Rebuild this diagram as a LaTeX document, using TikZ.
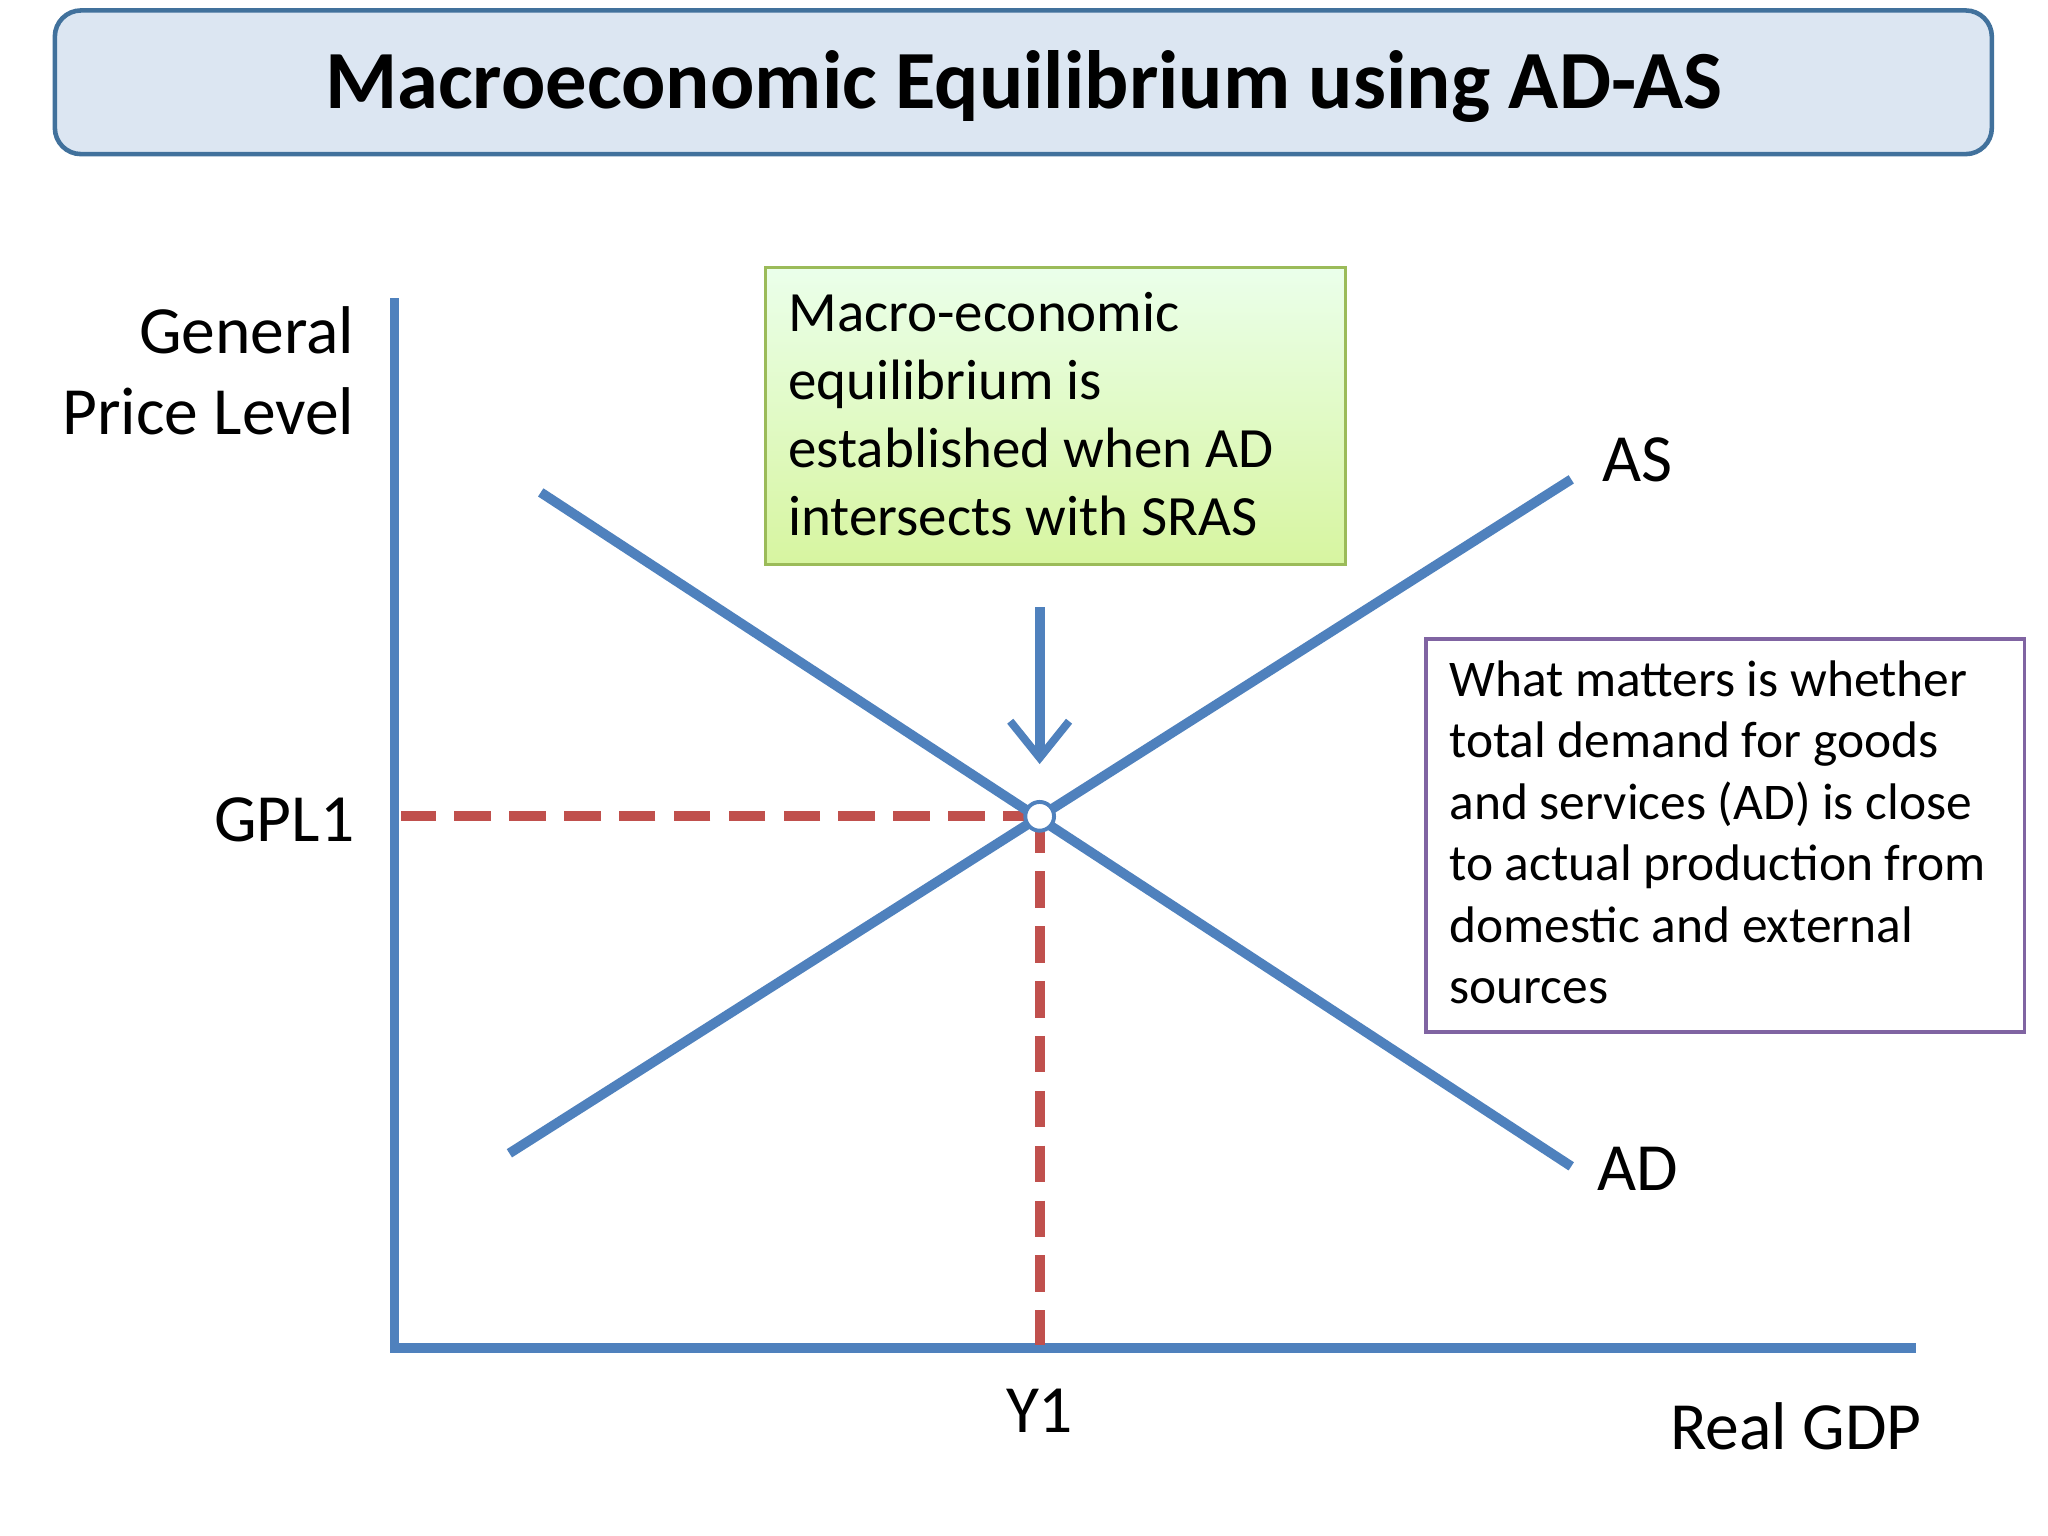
\documentclass[tikz,border=0pt]{standalone}
\usepackage{fontspec}
\setmainfont{Carlito}
\usetikzlibrary{arrows.meta}
\definecolor{axb}{HTML}{4F81BD}
\definecolor{dred}{HTML}{C0504D}
\definecolor{tfill}{HTML}{DCE6F2}
\definecolor{tbord}{HTML}{41719C}
\definecolor{gbord}{HTML}{9BBB59}
\definecolor{pbord}{HTML}{8064A2}
\tikzset{
  curve/.style={axb, line width=0.075cm},
  guide/.style={dred, line width=0.075cm, dash pattern=on 0.28cm off 0.14cm},
  lab/.style={inner sep=0pt, font=\fontsize{14.7}{17.6}\selectfont},
}
\begin{document}
\begin{tikzpicture}[x=0.01cm,y=-0.01cm]
\useasboundingbox (0,0) rectangle (1568,1176);
\fill[white] (0,0) rectangle (1568,1176);
% title
\draw[tbord, fill=tfill, line width=0.035cm, rounded corners=0.2cm] (42,8) rectangle (1525,118);
\node[font=\bfseries\fontsize{18}{22}\selectfont] (title) at (784,66) {Macroeconomic Equilibrium using AD-AS};
% axes
\coordinate (o) at (302,1032);
\coordinate (ytop) at (302,232);
\coordinate (xend) at (1463,1032);
\draw[curve, line cap=rect] (ytop) -- (o) -- (xend);
% curves
\coordinate (as1) at (390,883); \coordinate (as2) at (1203,367);
\coordinate (ad1) at (414,377); \coordinate (ad2) at (1203,893);
\coordinate (eq) at (796,625);
\coordinate (gy) at (307,625); \coordinate (yx) at (796,1030);
\draw[guide] (eq) -- (gy);
\draw[guide] (eq) -- (yx);
\draw[curve] (as1) -- (as2);
\draw[curve] (ad1) -- (ad2);
\node[circle, draw=axb, fill=white, line width=0.03cm, minimum size=0.22cm, inner sep=0pt] (eqdot) at (eq) {};
% arrow
\coordinate (arrs) at (796,465);
\draw[curve, -{Straight Barb[length=0.28cm, width=0.45cm, line width=0.06cm]}] (arrs) -- (796,585);
% labels
\node[lab, align=right, anchor=north east, font=\fontsize{14.7}{17.6}\selectfont] (ylab) at (272,234) {General\\Price Level};
\node[lab, anchor=east] (gpl) at (272,628) {GPL1};
\node[lab] (y1) at (796,1080) {Y1};
\node[lab] (rgdp) at (1375,1092) {Real GDP};
\node[lab, anchor=west] (aslab) at (1226,352) {AS};
\node[lab, anchor=west] (adlab) at (1222,895) {AD};
% green box
\shade[top color=green!8!white, bottom color={rgb,255:red,215;green,245;blue,160}] (586,205) rectangle (1030,432);
\draw[gbord, line width=0.02cm] (586,205) rectangle (1030,432);
\node[anchor=north west, align=left, inner sep=0pt, font=\fontsize{12.4}{14.8}\selectfont] (gtext) at (603,223)
 {Macro-economic\\equilibrium is\\established when AD\\intersects with SRAS};
% purple box
\draw[pbord, line width=0.03cm, fill=white] (1092,489) rectangle (1550,790);
\node[anchor=north west, align=left, inner sep=0pt, font=\fontsize{11.2}{13.4}\selectfont] (ptext) at (1109,505)
 {What matters is whether\\total demand for goods\\and services (AD) is close\\to actual production from\\domestic and external\\sources};
\end{tikzpicture}
\end{document}
